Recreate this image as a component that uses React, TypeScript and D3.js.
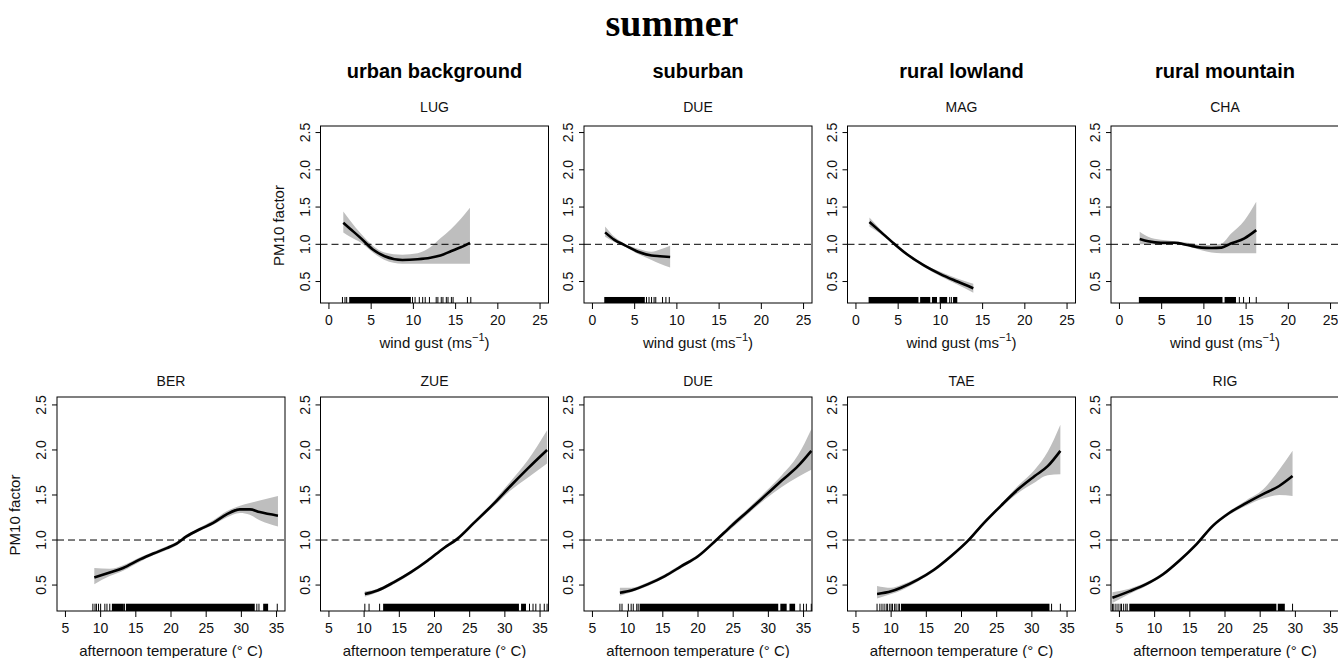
import * as d3 from 'd3';

type Pt = [number, number, number, number]; // x, fit, lower, upper

// column headers and panel titles
const columnHeaders = ['urban background', 'suburban', 'rural lowland', 'rural mountain'];
const windTicks = [0, 5, 10, 15, 20, 25];
const tempTicks = [5, 10, 15, 20, 25, 30, 35];
const yTicks = [0.5, 1.0, 1.5, 2.0, 2.5];
const windDomain = [0, 25];
const tempDomain = [5, 35];
const yDomain = [0.3, 2.5];

// wind gust row (x, fit, lower, upper)
const lugCurve: Pt[] = [
  [1.7, 1.29, 1.16, 1.44], [2.5, 1.21, 1.1, 1.32], [3.8, 1.08, 1.02, 1.14], [5.2, 0.93, 0.89, 0.98],
  [6.6, 0.84, 0.79, 0.89], [8.7, 0.79, 0.74, 0.86], [10.5, 0.8, 0.74, 0.88], [12.0, 0.82, 0.74, 0.96],
  [13.2, 0.85, 0.74, 1.08], [14.5, 0.91, 0.74, 1.21], [15.6, 0.96, 0.74, 1.34], [16.7, 1.02, 0.74, 1.49],
];
const lugRugTicks = [1.6, 1.9, 2.1, 9.9, 10.2, 10.7, 11.1, 11.4, 11.9, 12.7, 12.9, 13.3, 13.5, 13.9, 14.1, 14.5, 14.7, 16.4, 16.8];
const lugRugSpans = [[2.4, 9.7]];

const dueWindCurve: Pt[] = [
  [1.5, 1.16, 1.1, 1.24], [2.6, 1.06, 1.03, 1.1], [3.8, 0.99, 0.97, 1.01], [5.4, 0.9, 0.87, 0.94],
  [7.0, 0.85, 0.79, 0.9], [8.0, 0.84, 0.74, 0.93], [9.2, 0.83, 0.69, 0.98],
];
const dueWindRugTicks = [6.4, 6.7, 7.0, 7.3, 7.5, 8.3, 8.7, 9.1];
const dueWindRugSpans = [[1.4, 6.2]];

const magCurve: Pt[] = [
  [1.6, 1.3, 1.24, 1.36], [2.9, 1.17, 1.14, 1.2], [4.5, 1.01, 0.99, 1.03], [6.0, 0.87, 0.85, 0.89],
  [8.0, 0.72, 0.7, 0.74], [10.0, 0.6, 0.57, 0.63], [12.0, 0.5, 0.46, 0.54], [13.9, 0.41, 0.35, 0.47],
];
const magRugTicks = [11.1, 11.3];
const magRugSpans = [[1.5, 7.4], [7.6, 8.8], [9.0, 9.6], [9.9, 10.8], [11.5, 12.0]];

const chaCurve: Pt[] = [
  [2.4, 1.07, 1.0, 1.17], [3.4, 1.04, 1.0, 1.1], [4.9, 1.02, 0.99, 1.06], [6.5, 1.02, 1.0, 1.04],
  [8.1, 0.99, 0.97, 1.02], [9.7, 0.955, 0.92, 0.99], [10.9, 0.95, 0.89, 0.99], [12.1, 0.955, 0.88, 1.01],
  [13.2, 1.01, 0.88, 1.14], [14.8, 1.08, 0.88, 1.32], [16.2, 1.19, 0.88, 1.57],
];
const chaRugTicks = [14.2, 14.7, 15.4, 16.2];
const chaRugSpans = [[2.3, 12.2], [12.45, 13.8]];

// afternoon temperature row
const berCurve: Pt[] = [
  [9.1, 0.585, 0.51, 0.69], [11.3, 0.64, 0.6, 0.68], [13.2, 0.69, 0.66, 0.72], [15.6, 0.785, 0.76, 0.81],
  [17.5, 0.85, 0.83, 0.87], [19.4, 0.91, 0.89, 0.93], [20.8, 0.96, 0.94, 0.98], [22.2, 1.04, 1.02, 1.06],
  [24.1, 1.12, 1.1, 1.14], [26.0, 1.19, 1.17, 1.22], [27.9, 1.285, 1.25, 1.32], [29.8, 1.34, 1.3, 1.38],
  [31.2, 1.34, 1.28, 1.41], [32.6, 1.31, 1.22, 1.44], [35.2, 1.27, 1.15, 1.49],
];
const berRugTicks = [8.9, 9.2, 9.4, 9.7, 10.0, 10.6, 10.9, 11.3, 13.4, 32.2, 32.5, 35.1];
const berRugSpans = [[11.6, 13.3], [13.6, 31.9], [33.1, 33.8]];

const zueCurve: Pt[] = [
  [10.1, 0.4, 0.37, 0.43], [11.9, 0.44, 0.42, 0.46], [14.2, 0.53, 0.51, 0.55], [16.6, 0.64, 0.62, 0.66],
  [19.0, 0.77, 0.75, 0.79], [21.4, 0.915, 0.9, 0.93], [23.2, 1.01, 0.99, 1.03], [25.6, 1.19, 1.17, 1.21],
  [28.5, 1.41, 1.38, 1.44], [30.8, 1.6, 1.55, 1.65], [33.2, 1.79, 1.69, 1.88], [36.0, 2.0, 1.85, 2.22],
];
const zueRugTicks = [10.1, 10.7, 12.2, 33.5, 34.0, 34.4, 35.0, 35.6, 36.0];
const zueRugSpans = [[12.7, 32.0], [32.3, 33.0]];

const dueTempCurve: Pt[] = [
  [8.9, 0.415, 0.38, 0.47], [10.5, 0.44, 0.42, 0.47], [12.9, 0.51, 0.49, 0.53], [15.3, 0.6, 0.58, 0.62],
  [17.65, 0.71, 0.69, 0.73], [20.0, 0.82, 0.8, 0.84], [22.6, 1.0, 0.98, 1.02], [24.8, 1.16, 1.13, 1.19],
  [27.1, 1.32, 1.29, 1.35], [29.5, 1.49, 1.45, 1.53], [31.9, 1.66, 1.59, 1.72], [34.2, 1.82, 1.7, 1.94],
  [36.1, 1.99, 1.78, 2.23],
];
const dueTempRugTicks = [8.9, 9.2, 10.1, 10.5, 10.8, 11.3, 11.5, 34.5, 35.0, 35.4, 36.1];
const dueTempRugSpans = [[11.7, 31.4], [31.7, 32.6], [33.0, 33.8]];

const taeCurve: Pt[] = [
  [8.0, 0.4, 0.35, 0.49], [10.0, 0.43, 0.4, 0.47], [11.4, 0.47, 0.44, 0.5], [13.8, 0.56, 0.54, 0.58],
  [16.1, 0.67, 0.65, 0.69], [18.5, 0.82, 0.8, 0.84], [20.9, 0.99, 0.97, 1.01], [23.2, 1.19, 1.17, 1.21],
  [25.6, 1.38, 1.36, 1.4], [28.0, 1.56, 1.52, 1.6], [30.4, 1.71, 1.64, 1.78], [32.25, 1.82, 1.72, 1.98],
  [34.05, 1.99, 1.73, 2.28],
];
const taeRugTicks = [8.0, 8.4, 8.7, 9.0, 9.3, 9.5, 9.8, 10.0, 10.2, 10.5, 10.7, 11.0, 11.2, 32.8, 34.05];
const taeRugSpans = [[11.4, 32.5]];

const rigCurve: Pt[] = [
  [4.0, 0.36, 0.3, 0.42], [6.4, 0.43, 0.4, 0.46], [8.8, 0.51, 0.49, 0.53], [11.2, 0.62, 0.6, 0.64],
  [13.5, 0.77, 0.75, 0.79], [15.9, 0.95, 0.93, 0.97], [18.3, 1.16, 1.14, 1.18], [20.6, 1.3, 1.28, 1.32],
  [23.0, 1.41, 1.38, 1.44], [25.4, 1.51, 1.46, 1.56], [27.7, 1.6, 1.5, 1.78], [29.6, 1.71, 1.49, 1.99],
];
const rigRugTicks = [4.0, 4.2, 4.5, 4.8, 5.1, 5.3, 5.6, 5.9, 6.1, 29.6];
const rigRugSpans = [[6.4, 27.3], [27.5, 28.5]];

const panels = [
  { name: 'LUG', row: 0, col: 1, curve: lugCurve, ticks: lugRugTicks, spans: lugRugSpans },
  { name: 'DUE', row: 0, col: 2, curve: dueWindCurve, ticks: dueWindRugTicks, spans: dueWindRugSpans },
  { name: 'MAG', row: 0, col: 3, curve: magCurve, ticks: magRugTicks, spans: magRugSpans },
  { name: 'CHA', row: 0, col: 4, curve: chaCurve, ticks: chaRugTicks, spans: chaRugSpans },
  { name: 'BER', row: 1, col: 0, curve: berCurve, ticks: berRugTicks, spans: berRugSpans },
  { name: 'ZUE', row: 1, col: 1, curve: zueCurve, ticks: zueRugTicks, spans: zueRugSpans },
  { name: 'DUE', row: 1, col: 2, curve: dueTempCurve, ticks: dueTempRugTicks, spans: dueTempRugSpans },
  { name: 'TAE', row: 1, col: 3, curve: taeCurve, ticks: taeRugTicks, spans: taeRugSpans },
  { name: 'RIG', row: 1, col: 4, curve: rigCurve, ticks: rigRugTicks, spans: rigRugSpans },
];

// layout
const W = 1338;
const H = 658;
const colLeft = [57, 320.5, 584, 847.5, 1111];
const boxW = 228;
const rowLayout = [
  { top: 126, bottom: 303, titleY: 112 },
  { top: 397, bottom: 611, titleY: 386 },
];
const sans = '"Liberation Sans", Arial, sans-serif';

function padded(dom: number[]) {
  const p = (dom[1] - dom[0]) * 0.04;
  return [dom[0] - p, dom[1] + p];
}

function Panel({ p }: { p: (typeof panels)[number] }) {
  const rl = rowLayout[p.row];
  const left = colLeft[p.col];
  const isWind = p.row === 0;
  const x = d3.scaleLinear().domain(padded(isWind ? windDomain : tempDomain)).range([left, left + boxW]);
  const y = d3.scaleLinear().domain(padded(yDomain)).range([rl.bottom, rl.top]);
  const xt = isWind ? windTicks : tempTicks;
  const cx = left + boxW / 2;
  const cy = (rl.top + rl.bottom) / 2;
  const rugLen = (rl.bottom - rl.top) * 0.034;

  const area = d3
    .area<Pt>()
    .x((d) => x(d[0]))
    .y0((d) => y(d[2]))
    .y1((d) => y(d[3]))
    .curve(d3.curveMonotoneX);
  const line = d3
    .line<Pt>()
    .x((d) => x(d[0]))
    .y((d) => y(d[1]))
    .curve(d3.curveMonotoneX);

  return (
    <g>
      <path d={area(p.curve) || ''} fill="#bebebe" />
      <line x1={left} x2={left + boxW} y1={y(1)} y2={y(1)} stroke="#000" strokeDasharray="7 4" />
      <path d={line(p.curve) || ''} fill="none" stroke="#000" strokeWidth={2.6} />

      {/* rug */}
      {p.spans.map((s, i) => (
        <rect key={'s' + i} x={x(s[0])} y={rl.bottom - rugLen} width={x(s[1]) - x(s[0])} height={rugLen} fill="#000" />
      ))}
      {p.ticks.map((t, i) => (
        <line key={'t' + i} x1={x(t)} x2={x(t)} y1={rl.bottom} y2={rl.bottom - rugLen} stroke="#000" strokeWidth={1} />
      ))}

      <rect x={left} y={rl.top} width={boxW} height={rl.bottom - rl.top} fill="none" stroke="#000" />

      {/* x axis */}
      {xt.map((t) => (
        <g key={'x' + t}>
          <line x1={x(t)} x2={x(t)} y1={rl.bottom} y2={rl.bottom + 6} stroke="#000" />
          <text x={x(t)} y={rl.bottom + 22} textAnchor="middle" fontSize={14} fontFamily={sans} fill="#111">
            {t}
          </text>
        </g>
      ))}

      {/* y axis */}
      {yTicks.map((t) => (
        <g key={'y' + t}>
          <line x1={left} x2={left - 5} y1={y(t)} y2={y(t)} stroke="#000" />
          <text
            transform={`translate(${left - 11},${y(t)}) rotate(-90)`}
            textAnchor="middle"
            fontSize={14}
            fontFamily={sans}
            fill="#111"
          >
            {t.toFixed(1)}
          </text>
        </g>
      ))}

      <text x={cx} y={rl.titleY} textAnchor="middle" fontSize={14} fontFamily={sans} fill="#111">
        {p.name}
      </text>

      {isWind ? (
        <text x={cx} y={rl.bottom + 45} textAnchor="middle" fontSize={15} fontFamily={sans} fill="#111">
          wind gust (ms
          <tspan dy={-7} fontSize={11}>
            −1
          </tspan>
          <tspan dy={7}>)</tspan>
        </text>
      ) : (
        <text x={cx} y={rl.bottom + 45} textAnchor="middle" fontSize={15} fontFamily={sans} fill="#111">
          afternoon temperature (° C)
        </text>
      )}

      {(p.col === 1 && p.row === 0) || (p.col === 0 && p.row === 1) ? (
        <text
          transform={`translate(${left - 37},${cy + 11}) rotate(-90)`}
          textAnchor="middle"
          fontSize={15}
          fontFamily={sans}
          fill="#111"
        >
          PM10 factor
        </text>
      ) : null}
    </g>
  );
}

export default function App() {
  return (
    <svg
      width={W}
      height={H}
      viewBox={`0 0 ${W} ${H}`}
      style={{ position: 'absolute', left: 0, top: 0, background: '#fff' }}
    >
      <rect width={W} height={H} fill="#fff" />
      <text x={672} y={36} textAnchor="middle" fontSize={38} fontWeight="bold" fontFamily='"Liberation Serif", "Times New Roman", serif'>
        summer
      </text>
      {columnHeaders.map((h, i) => (
        <text
          key={h}
          x={colLeft[i + 1] + boxW / 2}
          y={78}
          textAnchor="middle"
          fontSize={20}
          fontWeight="bold"
          fontFamily={sans}
        >
          {h}
        </text>
      ))}
      {panels.map((p, i) => (
        <Panel key={i} p={p} />
      ))}
    </svg>
  );
}
